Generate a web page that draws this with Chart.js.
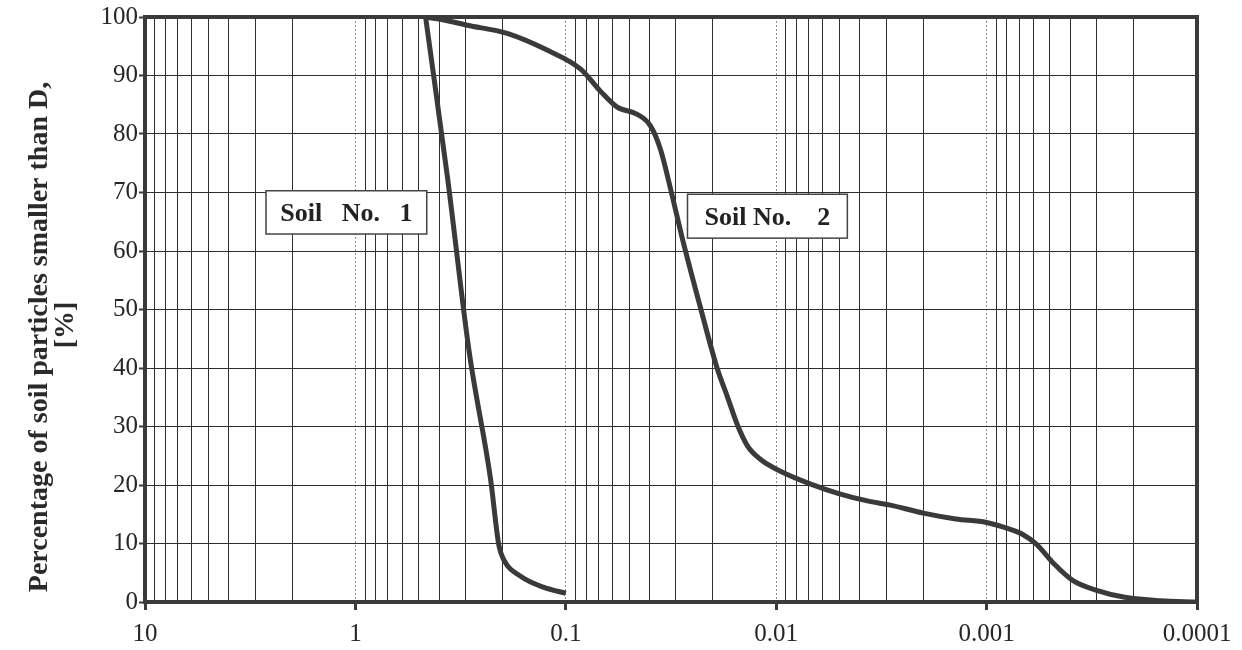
<!DOCTYPE html>
<html>
<head>
<meta charset="utf-8">
<script src="https://cdn.jsdelivr.net/npm/chart.js@4.4.1/dist/chart.umd.min.js"></script>
<style>
  html, body { margin: 0; padding: 0; background: #fff; }
</style>
</head>
<body>
<canvas id="myChart" width="1242" height="650"></canvas>
<script>
// grain size D and percent finer
var soil1D = [0.464, 0.365, 0.288, 0.228, 0.208, 0.197, 0.164, 0.127, 0.1];
var soil1P = [100, 72.6, 42.8, 21.1, 9.7, 7.2, 4.4, 2.5, 1.5];

var soil2D = [0.464, 0.38, 0.294, 0.19, 0.122, 0.085, 0.068, 0.057, 0.046, 0.0396, 0.0355, 0.0312,
              0.028, 0.0229, 0.0191, 0.0171, 0.0153, 0.0137, 0.0119, 0.0096, 0.0069, 0.005, 0.0036,
              0.0029, 0.002, 0.0014, 0.001, 0.00077, 0.00067, 0.00058, 0.00048, 0.00039, 0.0003,
              0.00022, 0.00015, 0.0001];
var soil2P = [100, 99.5, 98.6, 97.2, 94.3, 91.1, 87.2, 84.6, 83.4, 81.4, 77.4, 69.4,
              62.3, 50.3, 40.0, 35.2, 30.3, 26.7, 24.4, 22.4, 20.2, 18.5, 17.2,
              16.6, 15.2, 14.2, 13.6, 12.4, 11.5, 9.9, 6.6, 3.7, 2.0,
              0.8, 0.2, 0];

var xTickValues = [10, 1, 0.1, 0.01, 0.001, 0.0001];
var xTickLabels = ['10', '1', '0.1', '0.01', '0.001', '0.0001'];
var yTickValues = [0, 10, 20, 30, 40, 50, 60, 70, 80, 90, 100];
var yTitleLines = ['Percentage of soil particles smaller than D,', '[%]'];

var boxTexts = ['Soil   No.   1', 'Soil No.    2'];
var boxD = [[2.66, 0.458], [0.0264, 0.00459]];
var boxP = [[70.3, 62.9], [69.7, 62.2]];

// 1..9 in every decade for the log grid
var gridValues = [];
for (var e = -4; e < 1; e++) {
    for (var k = 1; k < 10; k++) gridValues.push(k * Math.pow(10, e));
}
gridValues.push(10);

function isDecade(v) {
    if (v === undefined || v === null) return false;
    var l = Math.log10(v);
    return Math.abs(l - Math.round(l)) < 1e-6;
}

function pts(ds, ps) {
    return ds.map(function (d, i) { return { x: d, y: ps[i] }; });
}

var serif = '"Liberation Serif", "Times New Roman", serif';
var ink = '#3a3a3a';

var framePlugin = {
    id: 'frame',
    beforeDatasetsDraw: function (chart) {
        var a = chart.chartArea, ctx = chart.ctx;
        ctx.save();
        ctx.strokeStyle = ink;
        ctx.lineWidth = 4;
        ctx.strokeRect(a.left, a.top, a.right - a.left, a.bottom - a.top);
        ctx.restore();
    }
};

var titlePlugin = {
    id: 'ytitle',
    afterDraw: function (chart) {
        var ctx = chart.ctx;
        var spots = [[40, 337], [66, 325]];
        for (var i = 0; i < yTitleLines.length; i++) {
            ctx.save();
            ctx.fillStyle = '#2a2a2a';
            ctx.font = 'bold 28px ' + serif;
            ctx.textAlign = 'center';
            ctx.textBaseline = 'middle';
            ctx.translate(spots[i][0], spots[i][1]);
            ctx.rotate(-Math.PI / 2);
            ctx.fillText(yTitleLines[i], 0, 0);
            ctx.restore();
        }
    }
};

var boxPlugin = {
    id: 'soilBoxes',
    afterDatasetsDraw: function (chart) {
        var ctx = chart.ctx, xs = chart.scales.x, ys = chart.scales.y;
        for (var i = 0; i < boxTexts.length; i++) {
            var x1 = xs.getPixelForValue(boxD[i][0]);
            var x2 = xs.getPixelForValue(boxD[i][1]);
            var y1 = ys.getPixelForValue(boxP[i][0]);
            var y2 = ys.getPixelForValue(boxP[i][1]);
            ctx.save();
            ctx.fillStyle = '#fff';
            ctx.fillRect(x1, y1, x2 - x1, y2 - y1);
            ctx.strokeStyle = '#444';
            ctx.lineWidth = 1.5;
            ctx.strokeRect(x1, y1, x2 - x1, y2 - y1);
            ctx.fillStyle = '#222';
            ctx.font = 'bold 26px ' + serif;
            ctx.textAlign = 'center';
            ctx.textBaseline = 'middle';
            ctx.fillText(boxTexts[i], (x1 + x2) / 2, (y1 + y2) / 2 + 2);
            ctx.restore();
        }
    }
};

var ctx = document.getElementById('myChart').getContext('2d');

var myChart = new Chart(ctx, {
    type: 'line',
    data: {
        datasets: [{
            label: 'Soil No. 1',
            data: pts(soil1D, soil1P),
            borderColor: ink,
            borderWidth: 5,
            cubicInterpolationMode: 'monotone',
            fill: false
        }, {
            label: 'Soil No. 2',
            data: pts(soil2D, soil2P),
            borderColor: ink,
            borderWidth: 5,
            cubicInterpolationMode: 'monotone',
            fill: false
        }]
    },
    options: {
        responsive: false,
        animation: false,
        layout: { padding: { top: 17, right: 45, left: 0, bottom: 0 } },
        elements: { point: { radius: 0 } },
        plugins: {
            legend: { display: false },
            tooltip: { enabled: false }
        },
        scales: {
            x: {
                type: 'logarithmic',
                reverse: true,
                min: 0.0001,
                max: 10,
                afterBuildTicks: function (axis) {
                    axis.ticks = gridValues.map(function (v) { return { value: v }; });
                },
                afterFit: function (axis) { axis.height = 48; },
                ticks: {
                    autoSkip: false,
                    maxRotation: 0,
                    padding: 9,
                    color: '#262626',
                    font: { family: serif, size: 25 },
                    callback: function (v) {
                        var i = xTickValues.findIndex(function (t) { return Math.abs(Math.log10(t) - Math.log10(v)) < 1e-6; });
                        return i >= 0 ? xTickLabels[i] : '';
                    }
                },
                grid: {
                    color: function (c) { return isDecade(c.tick && c.tick.value) ? '#8c8c8c' : '#2e2e2e'; },
                    lineWidth: 1,
                    tickLength: 8,
                    tickWidth: 3,
                    tickColor: function (c) { return isDecade(c.tick && c.tick.value) ? ink : 'rgba(0,0,0,0)'; }
                },
                border: {
                    display: false,
                    dash: function (c) { return (c.tick && isDecade(c.tick.value)) ? [2, 2] : []; }
                }
            },
            y: {
                min: 0,
                max: 100,
                afterBuildTicks: function (axis) {
                    axis.ticks = yTickValues.map(function (v) { return { value: v }; });
                },
                afterFit: function (axis) { axis.width = 145; },
                ticks: {
                    padding: 1,
                    color: '#262626',
                    font: { family: serif, size: 25 }
                },
                grid: {
                    color: '#2e2e2e',
                    lineWidth: 1,
                    tickLength: 6,
                    tickWidth: 2,
                    tickColor: ink
                },
                border: { display: false }
            }
        }
    },
    plugins: [framePlugin, boxPlugin, titlePlugin]
});
</script>
</body>
</html>
